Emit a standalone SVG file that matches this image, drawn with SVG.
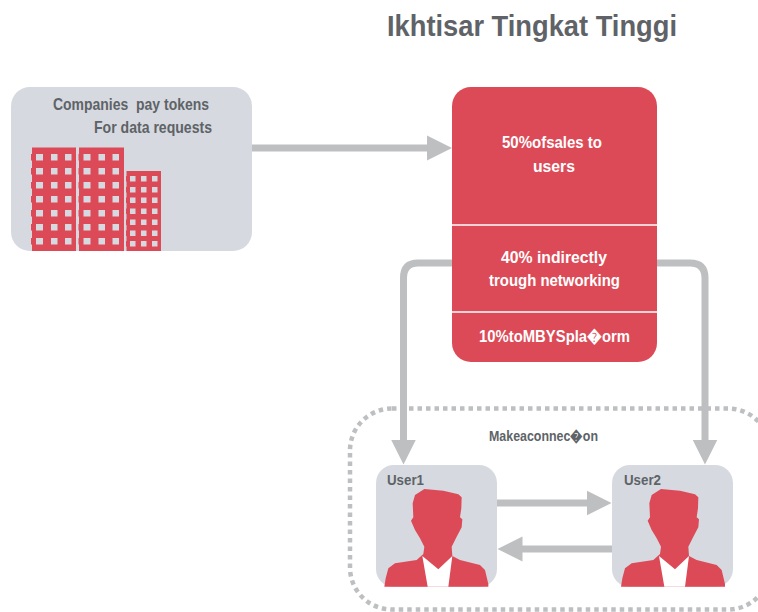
<svg xmlns="http://www.w3.org/2000/svg" width="758" height="612" viewBox="0 0 758 612">
<style>
text{font-family:"Liberation Sans",Arial,sans-serif;font-weight:700}
.title{font-size:30px;fill:#5f6368}
.dark{font-size:17px;fill:#5e6367}
.light{font-size:17px;fill:#fff}
.small{font-size:15px;fill:#5e6367}
.panel{fill:#d6d9e0}
.red{fill:#dd4a57}
.win{fill:#d6d9e0}
.sep{stroke:#fff;stroke-width:1.5;fill:none}
.conn{stroke:#bdbfc1;stroke-width:7;fill:none;marker-end:url(#head)}
</style>
<defs>
<marker id="head" markerUnits="userSpaceOnUse" markerWidth="26" markerHeight="26" refX="0.5" refY="13" orient="auto">
<path d="M0 0.5L25 13L0 25.500Z" fill="#bdbfc1"/>
</marker>
<g id="row"><rect class="red" x="-5" width="2" height="6.500"/><rect x="0" width="7" height="6.500"/><rect x="15" width="6.500" height="6.500"/><rect x="29" width="6.500" height="6.500"/></g>
<g id="rowS"><rect class="red" x="-4" width="2" height="5.500"/><rect x="0" width="5.500" height="5.500"/><rect x="11" width="5.500" height="5.500"/><rect x="22" width="5.500" height="5.500"/></g>
<g id="person">
<path class="red" d="M238 267L295 272L340 283L350 292L349 325L345 352L352 358L350 382L335 410L320 440L322 468L345 480L405 495L420 510L430 552L430 560L118 560L122 535L130 505L150 490L215 480L235 462L238 440L225 415L210 390L198 362L205 352L203 310L210 285Z"/>
<path fill="#fff" d="M232 468L280 508L322 468L310 560L248 560Z"/>
</g>
</defs>

<text class="title" x="387" y="36" textLength="290" lengthAdjust="spacingAndGlyphs">Ikhtisar Tingkat Tinggi</text>

<g id="connectors">
<path class="conn" d="M252 148H427.500"/>
<path class="conn" d="M452 263H418Q403.500 263 403.500 278V440"/>
<path class="conn" d="M657 263H690Q705 263 705 278V440"/>
<path class="conn" d="M497 503H587"/>
<path class="conn" d="M612 549H522"/>
</g>

<g id="companies">
<rect class="panel" x="11" y="87" width="241" height="164" rx="19"/>
<text class="dark" xml:space="preserve" x="53" y="110" textLength="156" lengthAdjust="spacingAndGlyphs">Companies  pay tokens</text>
<text class="dark" x="94" y="133" textLength="118" lengthAdjust="spacingAndGlyphs">For data requests</text>
<rect class="red" x="32" y="147.500" width="44" height="103.500"/>
<rect class="red" x="79" y="147.500" width="45" height="103.500"/>
<rect class="red" x="126.500" y="171" width="34.500" height="80"/>
<g class="win">
<use href="#row" x="36" y="154"/><use href="#row" x="36" y="168"/><use href="#row" x="36" y="182"/><use href="#row" x="36" y="196"/><use href="#row" x="36" y="210"/><use href="#row" x="36" y="224"/><use href="#row" x="36" y="238"/>
<use href="#row" x="83.500" y="154"/><use href="#row" x="83.500" y="168"/><use href="#row" x="83.500" y="182"/><use href="#row" x="83.500" y="196"/><use href="#row" x="83.500" y="210"/><use href="#row" x="83.500" y="224"/><use href="#row" x="83.500" y="238"/>
<use href="#rowS" x="130" y="176"/><use href="#rowS" x="130" y="187"/><use href="#rowS" x="130" y="197.500"/><use href="#rowS" x="130" y="208.500"/><use href="#rowS" x="130" y="219.500"/><use href="#rowS" x="130" y="230.500"/><use href="#rowS" x="130" y="241"/>
</g>
</g>

<g id="revenue">
<rect class="red" x="452" y="87" width="205" height="275" rx="19"/>
<path class="sep" d="M452 225H657M452 312H657"/>
<text class="light" x="502" y="148" textLength="100" lengthAdjust="spacingAndGlyphs">50%ofsales to</text>
<text class="light" x="533" y="172" textLength="42" lengthAdjust="spacingAndGlyphs">users</text>
<text class="light" x="501" y="263" textLength="106" lengthAdjust="spacingAndGlyphs">40% indirectly</text>
<text class="light" x="489" y="286" textLength="131" lengthAdjust="spacingAndGlyphs">trough networking</text>
<text class="light" x="479" y="342" textLength="151" lengthAdjust="spacingAndGlyphs">10%toMBYSpla�orm</text>
</g>

<g id="connection-group">
<rect x="350" y="408.500" width="420" height="201" rx="42" fill="none" stroke="#bdbfc1" stroke-width="4.500" stroke-dasharray="4.500 4"/>
<text class="small" x="489" y="441" textLength="109" lengthAdjust="spacingAndGlyphs">Makeaconnec�on</text>
</g>

<g id="user1">
<rect class="panel" x="376" y="465" width="121" height="122" rx="18"/>
<text class="small" x="387" y="485" textLength="37" lengthAdjust="spacingAndGlyphs">User1</text>
<use href="#person" transform="translate(345 400) scale(.33333)"/>
</g>

<g id="user2">
<rect class="panel" x="612" y="465" width="121" height="122" rx="18"/>
<text class="small" x="624" y="485" textLength="37" lengthAdjust="spacingAndGlyphs">User2</text>
<use href="#person" transform="translate(581.670 400) scale(.33333)"/>
</g>
</svg>
